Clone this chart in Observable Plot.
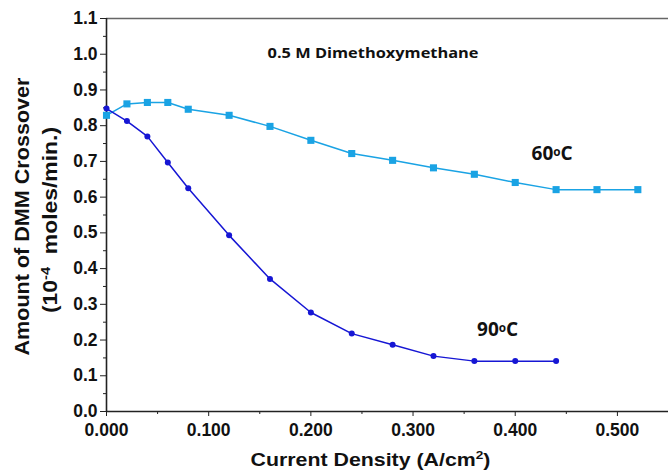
<!DOCTYPE html>
<html>
<head>
<meta charset="utf-8">
<script src="https://cdn.jsdelivr.net/npm/d3@7"></script>
<script src="https://cdn.jsdelivr.net/npm/@observablehq/plot@0.6"></script>
<style>
  html, body { margin: 0; padding: 0; background: #fff; }
  #chart svg { display: block; }
</style>
</head>
<body>
<div id="chart"></div>
<script>
// DMM crossover vs. current density, 0.5 M dimethoxymethane feed
const currentDensity60 = [0, 0.02, 0.04, 0.06, 0.08, 0.12, 0.16, 0.20, 0.24, 0.28, 0.32, 0.36, 0.40, 0.44, 0.48, 0.52];
const crossover60      = [0.829, 0.861, 0.865, 0.865, 0.846, 0.829, 0.798, 0.759, 0.722, 0.703, 0.682, 0.664, 0.641, 0.621, 0.621, 0.621];
const currentDensity90 = [0, 0.02, 0.04, 0.06, 0.08, 0.12, 0.16, 0.20, 0.24, 0.28, 0.32, 0.36, 0.40, 0.44];
const crossover90      = [0.848, 0.813, 0.770, 0.697, 0.625, 0.493, 0.371, 0.277, 0.218, 0.187, 0.155, 0.141, 0.141, 0.141];

const xTicks = [0, 0.1, 0.2, 0.3, 0.4, 0.5];
const xMinorTicks = [0.05, 0.15, 0.25, 0.35, 0.45];
const yTicks = [0, 0.1, 0.2, 0.3, 0.4, 0.5, 0.6, 0.7, 0.8, 0.9, 1.0, 1.1];
const yMinorTicks = [0.05, 0.15, 0.25, 0.35, 0.45, 0.55, 0.65, 0.75, 0.85, 0.95, 1.05];

const seriesLabels = ["60^{o}C", "90^{o}C"];
const labelX = [0.416, 0.3626];
const labelY = [0.72, 0.227];
const noteText = "0.5 M Dimethoxymethane";
const xTitle = "Current Density (A/cm^{2})";
const yTitle = ["Amount of DMM Crossover", "(10^{-4}  moles/min.)"];

const c60 = "#1aa3e4";
const c90 = "#1616d4";

const s60 = currentDensity60.map((x, i) => ({x, y: crossover60[i]}));
const s90 = currentDensity90.map((x, i) => ({x, y: crossover90[i]}));
const labels = seriesLabels.map((t, i) => ({t, x: labelX[i], y: labelY[i]}));

const sansBold = "'Liberation Sans', Arial, sans-serif";
const handFont = "'Comic Sans MS', 'Open Sans', sans-serif";

const chart = Plot.plot({
  width: 668,
  height: 472,
  marginLeft: 106,
  marginRight: 0,
  marginTop: 18,
  marginBottom: 61,
  x: {domain: [0, 0.55]},
  y: {domain: [0, 1.1]},
  marks: [
    // frame top edge
    Plot.ruleY([1.1], {stroke: "#666", strokeWidth: 1.5}),
    // minor ticks
    Plot.axisY({ticks: yMinorTicks, tickSize: 3, tickFormat: () => "", label: null, stroke: "#222"}),
    Plot.axisX({ticks: xMinorTicks, tickSize: 3, tickFormat: () => "", label: null, stroke: "#222"}),
    // major ticks with labels
    Plot.axisY({ticks: yTicks, tickSize: 6, tickPadding: 3, tickFormat: d3.format(".1f"), label: null,
      fontSize: 17.5, fontWeight: "bold", fontFamily: sansBold, fill: "#111", stroke: "#222"}),
    Plot.axisX({ticks: xTicks, tickSize: 5, tickPadding: 7, tickFormat: d3.format(".3f"), label: null,
      fontSize: 17.5, fontWeight: "bold", fontFamily: sansBold, fill: "#111", stroke: "#222"}),
    // axis lines
    Plot.ruleX([0], {stroke: "#222", strokeWidth: 1.6}),
    Plot.ruleY([0], {stroke: "#222", strokeWidth: 1.6}),
    // series
    Plot.line(s60, {x: "x", y: "y", stroke: c60, strokeWidth: 1.5}),
    Plot.dot(s60, {x: "x", y: "y", symbol: "square", r: 4, fill: c60}),
    Plot.line(s90, {x: "x", y: "y", stroke: c90, strokeWidth: 1.5}),
    Plot.dot(s90, {x: "x", y: "y", r: 3, fill: c90}),
    // annotations
    Plot.text([noteText], {x: 0.1576, y: 1.003, text: d => d, textAnchor: "start", className: "note",
      fontSize: 15, fontWeight: 700, fontFamily: handFont, fill: "#111"}),
    Plot.text(labels, {x: "x", y: "y", text: "t", textAnchor: "start",
      fontSize: 19, fontWeight: 700, fontFamily: handFont, fill: "#111"}),
    // axis titles
    Plot.text([xTitle], {frameAnchor: "bottom", text: d => d, dx: -17, dy: 48.5, lineAnchor: "middle",
      textAnchor: "middle", className: "x-title",
      fontSize: 18.5, fontWeight: "bold", fontFamily: sansBold, fill: "#111"}),
    Plot.text([yTitle[0]], {frameAnchor: "left", text: d => d, dx: -84, dy: 1.5, rotate: -90,
      lineAnchor: "middle", textAnchor: "middle", className: "y-title-1",
      fontSize: 20, fontWeight: "bold", fontFamily: sansBold, fill: "#111"}),
    Plot.text([yTitle[1]], {frameAnchor: "left", text: d => d, dx: -56, dy: 5, rotate: -90,
      lineAnchor: "middle", textAnchor: "middle", className: "y-title-2",
      fontSize: 20, fontWeight: "bold", fontFamily: sansBold, fill: "#111"})
  ]
});

// turn ^{...} runs into raised, smaller tspans
d3.select(chart).selectAll("text").each(function () {
  const s = this.textContent;
  if (!s.includes("^{")) return;
  const node = d3.select(this);
  node.text(null);
  const re = /\^\{([^}]*)\}/g;
  let last = 0, m;
  while ((m = re.exec(s))) {
    if (m.index > last) node.append("tspan").text(s.slice(last, m.index));
    const isDegree = m[1] === "o";
    node.append("tspan")
      .attr("font-size", isDegree ? "62%" : "64%")
      .attr("baseline-shift", isDegree ? "30%" : "super")
      .text(m[1]);
    last = re.lastIndex;
  }
  if (last < s.length) node.append("tspan").text(s.slice(last));
});

// the printed titles run a little wider than the plain font
const fit = (cls, len) => d3.select(chart).selectAll(`.${cls} text`)
  .attr("textLength", len).attr("lengthAdjust", "spacingAndGlyphs");
fit("x-title", 240);
fit("y-title-1", 278);
fit("y-title-2", 186);
fit("note", 211);

document.getElementById("chart").append(chart);
</script>
</body>
</html>
